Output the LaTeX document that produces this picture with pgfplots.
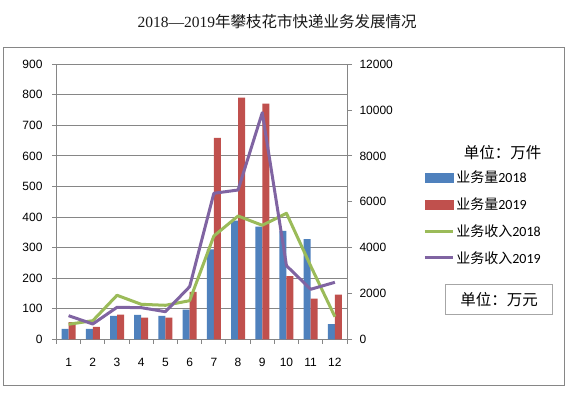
\documentclass[border=0pt]{standalone}
\usepackage{fontspec}
\setmainfont{Liberation Sans}
\newfontfamily\cjk{Noto Sans CJK SC}
\newfontfamily\calfont{Carlito}
\newfontfamily\seriffont{Liberation Serif}
\usepackage{pgfplots}
\pgfplotsset{compat=1.18}
\definecolor{cblue}{HTML}{4F81BD}
\definecolor{cred}{HTML}{C0504D}
\definecolor{cgreen}{HTML}{9BBB59}
\definecolor{cpurple}{HTML}{8064A2}
\definecolor{gridgray}{HTML}{868686}
\definecolor{boxgray}{HTML}{A6A6A6}
\begin{document}
\begin{tikzpicture}[x=1pt,y=1pt]
\path[fill=white] (0,0) rectangle (570,395);
\draw[color=gridgray, line width=1pt] (3,347) rectangle (564,9);
\node[font=\fontsize{15.5}{18}\selectfont, text=black!90] at (277,373) {{\seriffont 2018—2019}{\cjk 年攀枝花市快递业务发展情况}};
\node[font=\cjk\fontsize{15.5}{18}\selectfont] at (502.5,242.5) {单位：万件};
\draw[color=boxgray, line width=0.8pt] (445.7,110.7) rectangle (552.3,81);
\node[font=\cjk\fontsize{15.5}{18}\selectfont] at (499,95.8) {单位：万元};

\begin{axis}[
  at={(56.5pt,55.7pt)}, anchor=south west, scale only axis,
  width=290.5pt, height=275pt,
  xmin=0.5, xmax=12.5, ymin=0, ymax=900,
  ytick distance=100,
  ymajorgrids, grid style={gridgray, line width=1pt},
  axis x line*=bottom, axis y line*=left,
  axis line style={gridgray, line width=1pt, -},
  tick style={gridgray, line width=1pt},
  tick align=outside, major tick length=4.5pt,
  xtick={0.5,1.5,...,12.5}, xticklabels={},
  extra x ticks={1,2,...,12},
  extra x tick style={major tick length=0pt, xticklabel style={yshift=-15pt}},
  ticklabel style={font=\fontsize{12}{14}\selectfont, text=black},
  /pgf/number format/assume math mode=true,
  yticklabel style={xshift=-6pt},
  ybar=0pt, bar width=7pt,
  scaled y ticks=false,
  clip=false,
]
\addplot[fill=cblue, draw=none] coordinates {(1,33.7) (2,33.7) (3,77) (4,80) (5,77) (6,97) (7,294.5) (8,388) (9,368.6) (10,354.5) (11,328) (12,50)};
\addplot[fill=cred, draw=none] coordinates {(1,56.6) (2,41) (3,80.5) (4,70.7) (5,70.7) (6,155) (7,659) (8,791) (9,771) (10,207) (11,133) (12,146)};
\end{axis}

\begin{axis}[
  at={(56.5pt,55.7pt)}, anchor=south west, scale only axis,
  width=290.5pt, height=275pt,
  xmin=0.5, xmax=12.5, ymin=0, ymax=12000,
  ytick distance=2000,
  axis x line=none, axis y line*=right,
  axis line style={gridgray, line width=1pt, -},
  tick style={gridgray, line width=1pt},
  tick align=outside, major tick length=5pt,
  ticklabel style={font=\fontsize{12}{14}\selectfont, text=black},
  /pgf/number format/assume math mode=true,
  /pgf/number format/1000 sep={},
  scaled y ticks=false,
  yticklabel style={xshift=4pt},
  clip=false,
  legend style={at={(axis description cs:1.262,0.62)}, anchor=north west,
    draw=none, fill=none, font=\fontsize{14}{16}\selectfont,
    row sep=9.5pt, inner sep=0pt, nodes={inner sep=2pt}},
  legend cell align=left,
]
\addlegendimage{legend image code/.code={\fill[cblue] (0pt,-4.5pt) rectangle (28pt,4.5pt);}}
\addlegendentry{{\cjk 业务量}{\calfont 2018}}
\addlegendimage{legend image code/.code={\fill[cred] (0pt,-4.5pt) rectangle (28pt,4.5pt);}}
\addlegendentry{{\cjk 业务量}{\calfont 2019}}
\addplot[cgreen, line width=3pt, line join=round, legend image code/.code={\draw[cgreen, line width=3pt] (0pt,0pt) -- (28pt,0pt);}] coordinates {(1,655) (2,812) (3,1920) (4,1527) (5,1484) (6,1685) (7,4508) (8,5380) (9,4975) (10,5498) (11,3200) (12,986)};
\addlegendentry{{\cjk 业务收入}{\calfont 2018}}
\addplot[cpurple, line width=3pt, line join=round, legend image code/.code={\draw[cpurple, line width=3pt] (0pt,0pt) -- (28pt,0pt);}] coordinates {(1,1030) (2,668) (3,1396) (4,1380) (5,1205) (6,2296) (7,6371) (8,6515) (9,9888) (10,3212) (11,2182) (12,2487)};
\addlegendentry{{\cjk 业务收入}{\calfont 2019}}
\end{axis}
\end{tikzpicture}
\end{document}
